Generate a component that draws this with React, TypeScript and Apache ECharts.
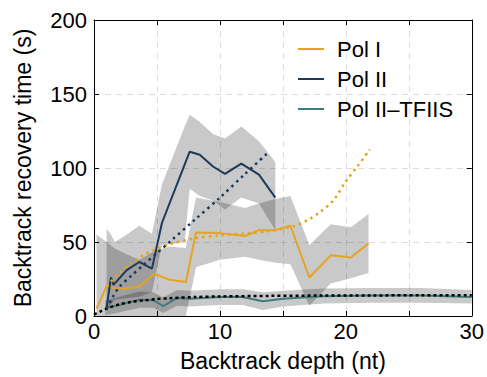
import React, { useEffect, useRef } from "react";
import * as echarts from "echarts";

// ---- data ----
const polIX = [0.2, 1.0, 1.6, 2.5, 3.6, 4.8, 6.0, 7.3, 8.1, 10, 12, 13.1, 14.4, 15.6, 17.1, 18.8, 20.4, 21.8];
const polIY = [5, 20, 19, 18.5, 20, 28.5, 24.5, 23, 56.5, 56, 54, 58, 58, 61, 26, 41, 39.5, 49];
const polILo = [0, 0, 0, 0, 0, 0, 0, 0, 33, 38, 40, 38, 36, 35, 7, 22, 25.5, 29];
const polIHi = [55, 50, 46, 42, 38, 44, 47, 46, 80, 77, 73, 76, 79, 81, 48, 62, 60, 69];

const polIIX = [1.0, 1.35, 1.55, 2.6, 3.6, 4.6, 5.4, 7.6, 8.4, 9.45, 10.4, 11.7, 13.1, 14.4];
const polIIY = [6, 26, 21, 31, 36.5, 32, 63, 111, 109, 101, 96, 103, 95.5, 80];
const polIIBandX = [1.0, 1.35, 1.66, 2.6, 3.6, 4.6, 5.4, 7.2, 7.6, 8.4, 9.45, 10.4, 11.7, 13.1, 14.4];
const polIIBandLo = [4, 8, 11, 12, 13, 16, 48, 50, 86, 81, 78, 72, 80, 76, 58];
const polIIBandHi = [59, 55, 50, 55, 61, 55.5, 89, 128, 136, 131, 123, 120, 128, 118, 104];

const tfX = [0.9, 1.8, 3.6, 4.7, 5.5, 6.6, 7.6, 10, 11.8, 13.4, 15, 18.2, 22, 26, 30];
const tfY = [5.5, 7, 11, 10.7, 6.7, 12.2, 11.6, 12.9, 12.9, 10, 11.6, 13.3, 13.8, 13.8, 12.9];
const tfLo = [0.5, 2, 5.5, 5.5, 2, 7, 6.5, 7.5, 7.5, 4, 6.5, 8.5, 9, 9, 8.5];
const tfHi = [10.5, 12.5, 16.5, 16, 12.5, 17.5, 17, 18, 18, 16, 17, 18.5, 19, 19, 17.5];

const polIFitX = [1, 2, 3, 4, 5, 6, 8, 10, 12, 14, 16, 17, 18, 19, 20, 21, 21.9];
const polIFitY = [20, 29, 36, 41.5, 45.5, 48.5, 52.5, 54.5, 55.8, 57.5, 61, 65, 70.5, 78, 91, 102, 112.5];

const polIIFitX = [1, 1.5, 2, 3, 4, 5, 6, 8, 10, 12, 13.9];
const polIIFitY = [5, 13, 19.5, 27.5, 35, 42.5, 50, 65, 80, 96, 111];

const tfFitX = [0, 0.5, 1, 1.5, 2, 3, 4, 5, 6, 8, 10, 14, 18, 22, 26, 30];
const tfFitY = [1, 3, 5, 6.5, 7.8, 9.6, 10.6, 11.4, 12, 12.8, 13.2, 13.6, 13.8, 13.9, 14, 14];

const names = ["Pol I", "Pol II", "Pol II\u2013TFIIS"];
const xTicks = { min: 0, max: 30, interval: 5 };
const yTicks = { min: 0, max: 200, interval: 50 };

const ORANGE = "#E6A41E";
const NAVY = "#1C3A58";
const TEAL = "#3D7C7A";
const BAND = "rgba(0,0,0,0.21)";
const GRID = "#dddddd";
const FONT = "Liberation Sans, Arial, Helvetica, sans-serif";

const pairs = (xs: number[], ys: number[]) => xs.map((x, i) => [x, ys[i]]);

function bandSeries(xs: number[], lo: number[], hi: number[]) {
  return {
    type: "custom",
    z: 1,
    silent: true,
    clip: true,
    data: xs.map((x, i) => [x, lo[i], hi[i]]),
    encode: { x: 0, y: [1, 2] },
    renderItem: (params: any, api: any) => {
      if (params.dataIndex !== 0) return null;
      const pts: number[][] = [];
      for (let i = 0; i < xs.length; i++) pts.push(api.coord([xs[i], hi[i]]));
      for (let i = xs.length - 1; i >= 0; i--) pts.push(api.coord([xs[i], lo[i]]));
      return { type: "polygon", shape: { points: pts }, style: { fill: BAND } };
    },
  };
}

function lineSeries(name: string, xs: number[], ys: number[], color: string) {
  return {
    name,
    type: "line",
    z: 3,
    data: pairs(xs, ys),
    symbol: "none",
    showSymbol: false,
    color,
    lineStyle: { color, width: 2 },
  };
}

function fitSeries(xs: number[], ys: number[], color: string, dash: number[]) {
  return {
    type: "line",
    z: 4,
    data: pairs(xs, ys),
    symbol: "none",
    showSymbol: false,
    smooth: 0.3,
    lineStyle: { color, width: 2.5, type: dash },
  };
}

export default function App() {
  const ref = useRef<HTMLDivElement>(null);
  useEffect(() => {
    if (!ref.current) return;
    const chart = echarts.init(ref.current, null, { renderer: "svg" });
    const axisLine = { show: true, onZero: false, lineStyle: { color: "#000", width: 1 } };
    const tick = { show: true, inside: true, length: 5, lineStyle: { color: "#000" } };
    chart.setOption({
      animation: false,
      backgroundColor: "#fff",
      grid: { left: 94, right: 14, top: 20, bottom: 57 },
      legend: {
        left: 293,
        top: 33,
        orient: "vertical",
        icon: "rect",
        itemWidth: 26,
        itemHeight: 2,
        itemGap: 8,
        selectedMode: false,
        data: names,
        textStyle: { fontSize: 22, lineHeight: 22, color: "#000", fontFamily: FONT, padding: [0, 0, 0, 8] },
      },
      xAxis: [
        {
          type: "value",
          ...xTicks,
          position: "bottom",
          axisLine,
          axisTick: tick,
          axisLabel: {
            color: "#000",
            fontSize: 22,
            fontFamily: FONT,
            margin: 4,
            formatter: (v: number) => (v % 10 === 0 ? String(v) : ""),
          },
          splitLine: { show: true, lineStyle: { color: GRID, type: [6, 5], width: 1 } },
          name: "Backtrack depth (nt)",
          nameLocation: "middle",
          nameGap: 33,
          nameTextStyle: { fontSize: 23, color: "#000", fontFamily: FONT },
        },
        {
          type: "value",
          ...xTicks,
          position: "top",
          axisLine,
          axisTick: tick,
          axisLabel: { show: false },
          splitLine: { show: false },
        },
      ],
      yAxis: [
        {
          type: "value",
          ...yTicks,
          position: "left",
          axisLine,
          axisTick: tick,
          axisLabel: { color: "#000", fontSize: 22, fontFamily: FONT, margin: 7 },
          splitLine: { show: true, lineStyle: { color: GRID, type: [6, 5], width: 1 } },
          name: "Backtrack recovery time (s)",
          nameLocation: "middle",
          nameRotate: 90,
          nameGap: 60,
          nameTextStyle: { fontSize: 23, color: "#000", fontFamily: FONT },
        },
        {
          type: "value",
          ...yTicks,
          position: "right",
          axisLine,
          axisTick: tick,
          axisLabel: { show: false },
          splitLine: { show: false },
        },
      ],
      series: [
        bandSeries(polIX, polILo, polIHi),
        bandSeries(polIIBandX, polIIBandLo, polIIBandHi),
        bandSeries(tfX, tfLo, tfHi),
        lineSeries(names[2], tfX, tfY, TEAL),
        lineSeries(names[0], polIX, polIY, ORANGE),
        lineSeries(names[1], polIIX, polIIY, NAVY),
        fitSeries(tfFitX, tfFitY, "#000", [3, 3]),
        fitSeries(polIFitX, polIFitY, ORANGE, [2.5, 4]),
        fitSeries(polIIFitX, polIIFitY, NAVY, [2.5, 4]),
      ],
    });
    return () => chart.dispose();
  }, []);
  return (
    <div
      ref={ref}
      style={{ position: "fixed", left: 0, top: 0, width: 487, height: 377, background: "#fff" }}
    />
  );
}
